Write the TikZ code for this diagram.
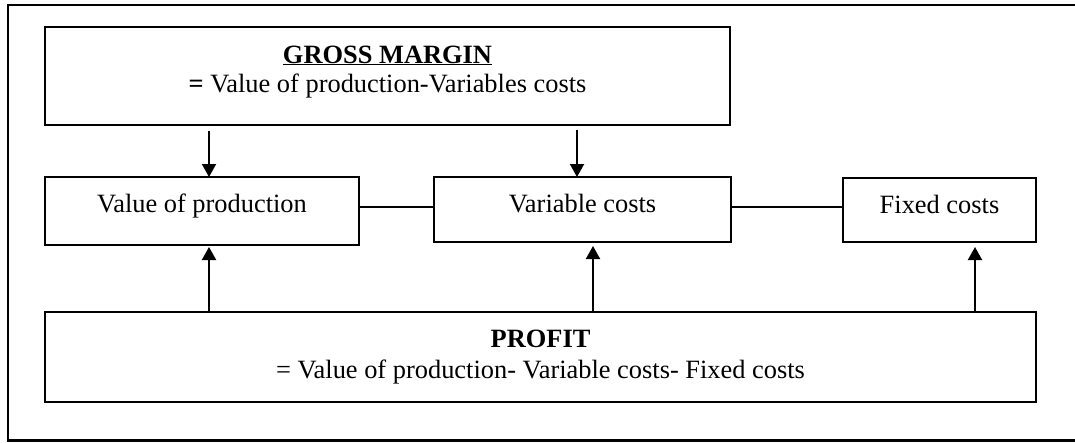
\documentclass[tikz,border=0pt]{standalone}
\usepackage{fontspec}
\setmainfont{Liberation Serif}
\usetikzlibrary{arrows.meta}
\begin{document}
\begin{tikzpicture}[x=1pt,y=-1pt,
  box/.style={draw, line width=2.2pt, inner sep=0pt, outer sep=0pt, rectangle},
  txt/.style={inner sep=0pt, outer sep=0pt, anchor=base, font=\fontsize{26.4}{30}\selectfont},
  conn/.style={line width=2pt},
  arr/.style={conn, -{Triangle[width=14pt,length=13pt]}}]
\useasboundingbox (0,0) rectangle (1075,442);
% outer frame (right side lies beyond the picture)
\draw[line width=2.2pt] (1080,5) -- (8,5) -- (8,440.5) -- (1080,440.5);
% boxes
\node[box, minimum width=685, minimum height=98] (gm) at (387.5,76) {};
\node[box, minimum width=314, minimum height=68] (vop) at (202,211) {};
\node[box, minimum width=297, minimum height=65] (vc) at (582.5,209.5) {};
\node[box, minimum width=193, minimum height=64] (fc) at (939.5,210) {};
\node[box, minimum width=991, minimum height=90] (profit) at (540.5,357) {};
% texts
\node[txt] (gmt1) at ([shift={(0,-13)}]gm.center) {\underline{\textbf{GROSS MARGIN}}};
\node[txt] (gmt2) at ([shift={(0,16)}]gm.center) {\textbf{=} Value of production-Variables costs};
\node[txt] (vopt) at ([shift={(0,1)}]vop.center) {Value of production};
\node[txt] (vct) at ([shift={(0,2.5)}]vc.center) {Variable costs};
\node[txt] (fct) at ([shift={(0,3)}]fc.center) {Fixed costs};
\node[txt] (prt1) at ([shift={(0,-10)}]profit.center) {\textbf{PROFIT}};
\node[txt] (prt2) at ([shift={(0,21)}]profit.center) {= Value of production- Variable costs- Fixed costs};
% connectors
\draw[arr] ([shift={(7,6)}]gm.south -| vop.north) -- ([shift={(7,0)}]vop.north);
\draw[arr] ([shift={(-5.5,5)}]gm.south -| vc.north) -- ([shift={(-5.5,0)}]vc.north);
\draw[conn] ([shift={(0,-4)}]vop.east) -- ([shift={(0,-4)}]vop.east -| vc.west);
\draw[conn] ([shift={(0,-2.5)}]vc.east) -- ([shift={(0,-2.5)}]vc.east -| fc.west);
\draw[arr] ([shift={(7,0)}]profit.north -| vop.south) -- ([shift={(7,2)}]vop.south);
\draw[arr] ([shift={(10.5,0)}]profit.north -| vc.south) -- ([shift={(10.5,4)}]vc.south);
\draw[arr] ([shift={(35.5,0)}]profit.north -| fc.south) -- ([shift={(35.5,5)}]fc.south);
\end{tikzpicture}
\end{document}
